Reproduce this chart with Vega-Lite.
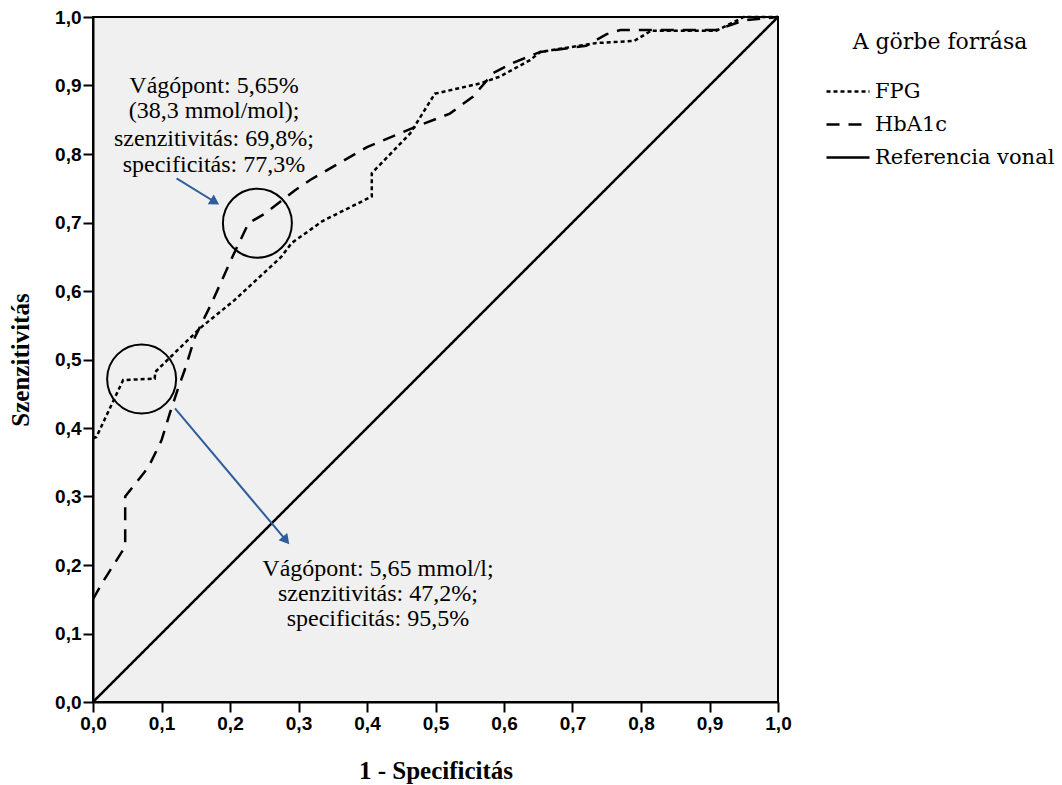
{
  "$schema": "https://vega.github.io/schema/vega-lite/v6.json",
  "width": 685,
  "height": 685,
  "autosize": {"type": "none"},
  "padding": {"left": 93, "top": 17, "right": 284, "bottom": 83},
  "background": "white",
  "config": {
    "view": {"fill": "#f0f0f0", "stroke": "black", "strokeWidth": 2},
    "axis": {
      "grid": false,
      "domainColor": "black",
      "domainWidth": 2,
      "tickColor": "black",
      "tickWidth": 2,
      "tickSize": 10,
      "labelFont": "Liberation Sans",
      "labelFontWeight": "bold",
      "labelFontSize": 19,
      "labelColor": "black",
      "labelPadding": 2,
      "labelFlush": false,
      "labelOverlap": false,
      "titleFont": "Liberation Serif",
      "titleFontWeight": "bold",
      "titleFontSize": 25,
      "titleColor": "black"
    }
  },
  "datasets": {
    "curves": [
      {"series": "FPG", "i": 1, "x": 0, "y": 0.385},
      {"series": "FPG", "i": 2, "x": 0.005, "y": 0.387},
      {"series": "FPG", "i": 3, "x": 0.044, "y": 0.47},
      {"series": "FPG", "i": 4, "x": 0.09, "y": 0.472},
      {"series": "FPG", "i": 5, "x": 0.091, "y": 0.482},
      {"series": "FPG", "i": 6, "x": 0.134, "y": 0.524},
      {"series": "FPG", "i": 7, "x": 0.159, "y": 0.548},
      {"series": "FPG", "i": 8, "x": 0.207, "y": 0.587},
      {"series": "FPG", "i": 9, "x": 0.275, "y": 0.65},
      {"series": "FPG", "i": 10, "x": 0.29, "y": 0.67},
      {"series": "FPG", "i": 11, "x": 0.335, "y": 0.702},
      {"series": "FPG", "i": 12, "x": 0.407, "y": 0.738},
      {"series": "FPG", "i": 13, "x": 0.407, "y": 0.772},
      {"series": "FPG", "i": 14, "x": 0.463, "y": 0.83},
      {"series": "FPG", "i": 15, "x": 0.499, "y": 0.888},
      {"series": "FPG", "i": 16, "x": 0.565, "y": 0.903},
      {"series": "FPG", "i": 17, "x": 0.594, "y": 0.913},
      {"series": "FPG", "i": 18, "x": 0.638, "y": 0.937},
      {"series": "FPG", "i": 19, "x": 0.653, "y": 0.949},
      {"series": "FPG", "i": 20, "x": 0.735, "y": 0.962},
      {"series": "FPG", "i": 21, "x": 0.79, "y": 0.965},
      {"series": "FPG", "i": 22, "x": 0.815, "y": 0.98},
      {"series": "FPG", "i": 23, "x": 0.91, "y": 0.98},
      {"series": "FPG", "i": 24, "x": 0.95, "y": 1.0},
      {"series": "FPG", "i": 25, "x": 1, "y": 1},
      {"series": "HbA1c", "i": 1, "x": 0, "y": 0.15},
      {"series": "HbA1c", "i": 2, "x": 0.013, "y": 0.173},
      {"series": "HbA1c", "i": 3, "x": 0.047, "y": 0.227},
      {"series": "HbA1c", "i": 4, "x": 0.047, "y": 0.3},
      {"series": "HbA1c", "i": 5, "x": 0.081, "y": 0.343},
      {"series": "HbA1c", "i": 6, "x": 0.1, "y": 0.382},
      {"series": "HbA1c", "i": 7, "x": 0.112, "y": 0.421},
      {"series": "HbA1c", "i": 8, "x": 0.125, "y": 0.46},
      {"series": "HbA1c", "i": 9, "x": 0.134, "y": 0.485},
      {"series": "HbA1c", "i": 10, "x": 0.149, "y": 0.533},
      {"series": "HbA1c", "i": 11, "x": 0.173, "y": 0.582},
      {"series": "HbA1c", "i": 12, "x": 0.205, "y": 0.653},
      {"series": "HbA1c", "i": 13, "x": 0.227, "y": 0.699},
      {"series": "HbA1c", "i": 14, "x": 0.251, "y": 0.713},
      {"series": "HbA1c", "i": 15, "x": 0.295, "y": 0.747},
      {"series": "HbA1c", "i": 16, "x": 0.317, "y": 0.762},
      {"series": "HbA1c", "i": 17, "x": 0.4, "y": 0.81},
      {"series": "HbA1c", "i": 18, "x": 0.472, "y": 0.84},
      {"series": "HbA1c", "i": 19, "x": 0.521, "y": 0.859},
      {"series": "HbA1c", "i": 20, "x": 0.555, "y": 0.884},
      {"series": "HbA1c", "i": 21, "x": 0.584, "y": 0.918},
      {"series": "HbA1c", "i": 22, "x": 0.613, "y": 0.933},
      {"series": "HbA1c", "i": 23, "x": 0.653, "y": 0.949},
      {"series": "HbA1c", "i": 24, "x": 0.72, "y": 0.958},
      {"series": "HbA1c", "i": 25, "x": 0.75, "y": 0.975},
      {"series": "HbA1c", "i": 26, "x": 0.77, "y": 0.981},
      {"series": "HbA1c", "i": 27, "x": 0.91, "y": 0.981},
      {"series": "HbA1c", "i": 28, "x": 0.95, "y": 0.995},
      {"series": "HbA1c", "i": 29, "x": 1, "y": 1},
      {"series": "Referencia vonal", "i": 0, "x": 0, "y": 0},
      {"series": "Referencia vonal", "i": 1, "x": 1, "y": 1}
    ],
    "circles": [
      {"x": 0.24, "y": 0.699},
      {"x": 0.071, "y": 0.4715}
    ],
    "arrows": [
      {"x": 0.122, "y": 0.7645, "x2": 0.178, "y2": 0.7299, "ang": 31.7},
      {"x": 0.1197, "y": 0.4287, "x2": 0.2819, "y2": 0.2359, "ang": 49.9}
    ],
    "notes": [
      {"x": 0.1766, "y": 0.889, "label": "Vágópont: 5,65%"},
      {"x": 0.1766, "y": 0.8526, "label": "(38,3 mmol/mol);"},
      {"x": 0.1766, "y": 0.8117, "label": "szenzitivitás: 69,8%;"},
      {"x": 0.1766, "y": 0.7737, "label": "specificitás: 77,3%"},
      {"x": 0.416, "y": 0.1839, "label": "Vágópont: 5,65 mmol/l;"},
      {"x": 0.416, "y": 0.1474, "label": "szenzitivitás: 47,2%;"},
      {"x": 0.416, "y": 0.1109, "label": "specificitás: 95,5%"}
    ]
  },
  "layer": [
    {
      "data": {"name": "curves"},
      "mark": {"type": "line", "color": "black", "strokeWidth": 2.5, "strokeCap": "butt"},
      "encoding": {
        "x": {
          "field": "x", "type": "quantitative",
          "scale": {"domain": [0, 1], "nice": false, "zero": false},
          "axis": {
            "title": "1 - Specificitás",
            "values": [0, 0.1, 0.2, 0.3, 0.4, 0.5, 0.6, 0.7, 0.8, 0.9, 1],
            "labelExpr": "replace(format(datum.value, '.1f'), '.', ',')",
            "titleBaseline": "middle",
            "titleY": 68
          }
        },
        "y": {
          "field": "y", "type": "quantitative",
          "scale": {"domain": [0, 1], "nice": false, "zero": false},
          "axis": {
            "title": "Szenzitivitás",
            "values": [0, 0.1, 0.2, 0.3, 0.4, 0.5, 0.6, 0.7, 0.8, 0.9, 1],
            "labelExpr": "replace(format(datum.value, '.1f'), '.', ',')",
            "titleBaseline": "middle",
            "titleX": -73,
            "titleY": 342.5
          }
        },
        "order": {"field": "i", "type": "quantitative"},
        "strokeDash": {
          "field": "series", "type": "nominal",
          "scale": {"domain": ["FPG", "HbA1c", "Referencia vonal"], "range": [[4, 3], [13, 9], [1, 0]]},
          "legend": {
            "title": "A görbe forrása",
            "orient": "none",
            "legendX": 732,
            "legendY": 15,
            "padding": 0,
            "titleFont": "DejaVu Serif",
            "titleFontSize": 22,
            "titleFontWeight": "normal",
            "titleColor": "black",
            "titleAnchor": "middle",
            "titlePadding": 21,
            "labelFont": "DejaVu Serif",
            "labelFontSize": 21,
            "labelColor": "black",
            "labelOffset": 4,
            "labelLimit": 300,
            "symbolType": "stroke",
            "symbolSize": 1849,
            "symbolStrokeWidth": 2.5,
            "symbolStrokeColor": "black",
            "clipHeight": 33,
            "rowPadding": 0
          }
        }
      }
    },
    {
      "data": {"name": "circles"},
      "mark": {"type": "point", "shape": "circle", "filled": false, "stroke": "black", "strokeWidth": 2, "size": 4761, "opacity": 1},
      "encoding": {
        "x": {"field": "x", "type": "quantitative"},
        "y": {"field": "y", "type": "quantitative"}
      }
    },
    {
      "data": {"name": "arrows"},
      "mark": {"type": "rule", "color": "#2f5c9b", "strokeWidth": 2},
      "encoding": {
        "x": {"field": "x", "type": "quantitative"},
        "y": {"field": "y", "type": "quantitative"},
        "x2": {"field": "x2"},
        "y2": {"field": "y2"}
      }
    },
    {
      "data": {"name": "arrows"},
      "mark": {"type": "point", "shape": "triangle-right", "filled": true, "color": "#2f5c9b", "size": 130, "opacity": 1},
      "encoding": {
        "x": {"field": "x2", "type": "quantitative"},
        "y": {"field": "y2", "type": "quantitative"},
        "angle": {"field": "ang", "type": "quantitative", "scale": null}
      }
    },
    {
      "data": {"name": "notes"},
      "mark": {"type": "text", "font": "Liberation Serif", "fontSize": 24, "align": "center", "baseline": "alphabetic", "color": "black"},
      "encoding": {
        "x": {"field": "x", "type": "quantitative"},
        "y": {"field": "y", "type": "quantitative"},
        "text": {"field": "label"}
      }
    }
  ]
}
